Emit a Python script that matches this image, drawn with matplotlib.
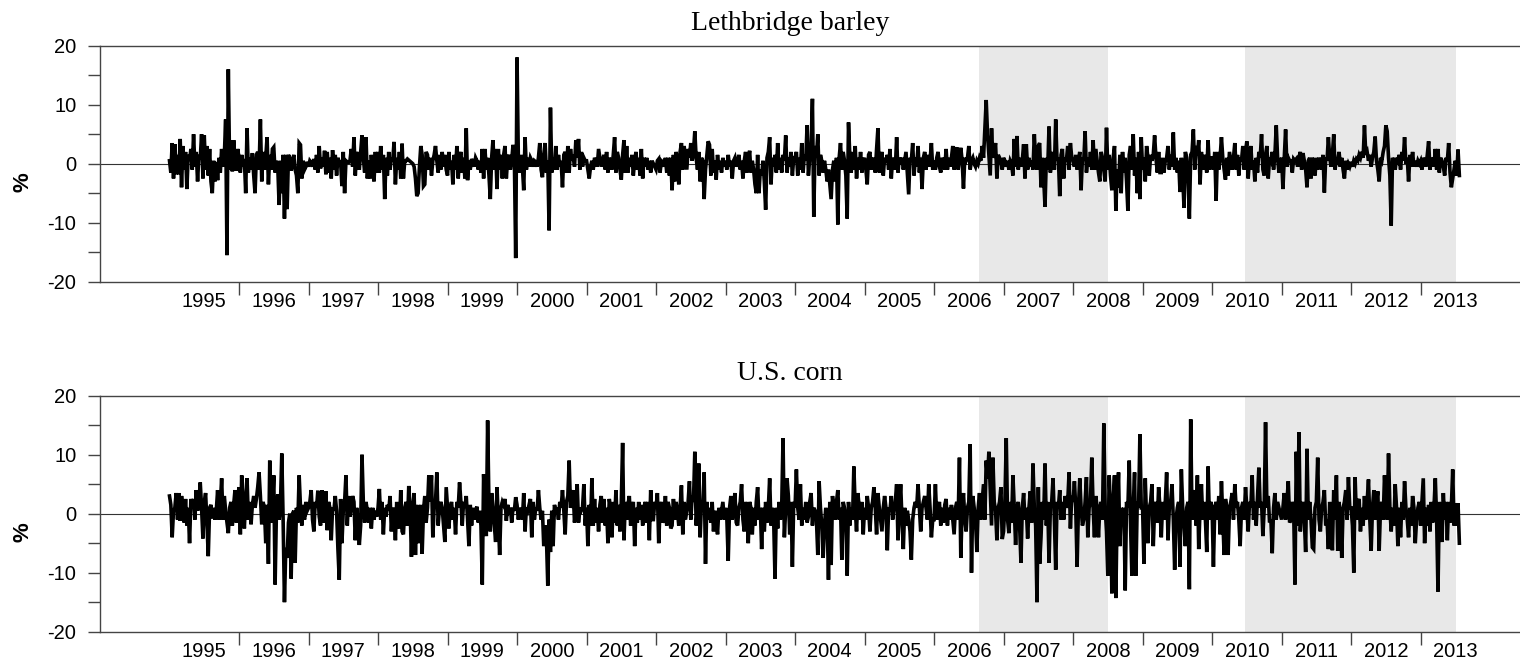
import numpy as np
import matplotlib
matplotlib.use("Agg")
import matplotlib.pyplot as plt
from matplotlib.ticker import FixedLocator, FixedFormatter, NullFormatter

plt.rcParams['axes.unicode_minus'] = False
plt.rcParams['font.family'] = ['Liberation Sans', 'DejaVu Sans']

# ---------------- data (weekly % changes) ----------------
panel_titles = ["Lethbridge barley", "U.S. corn"]
first_year = 1995
weeks_per_year = 52
shade_periods = [(2006.65, 2008.50), (2010.47, 2013.51)]
y_ticks = [-20, -10, 0, 10, 20]
y_tick_labels = ["-20", "-10", "0", "10", "20"]
y_minor_ticks = [-15, -5, 5, 15]
year_labels = [str(y) for y in range(1995, 2014)]

barley_1995 = [0.5, -1.5, 3.5, -2.5, 3.3, -1.8, 1.5, -1.8, 4.2, -4.0, 3.0, -1.0, 2.0,
               -4.3, 1.5, 0.5, 2.5, -1.0, 5.0, -0.5, 2.0, -3.0, 1.5, 0.8, 5.0, -2.5,
               4.8, -1.0, 3.0, -2.0, 2.5, -3.0, -5.0, 0.5, -3.0, 0.3, -2.8, 1.0, -1.5,
               2.5, -0.5, 1.2, 7.5, -15.5, 16.0, -1.0, 4.0, -1.3, 4.0, 0.5, -1.2, 2.5]
barley_1996 = [1.0, -1.5, 1.5, -0.5, 0.8, -5.0, 6.0, -1.5, 1.0, -1.0, 1.8, -2.0, -5.0,
               1.5, 2.0, -1.0, 7.5, -3.0, 2.0, -1.0, 1.0, 4.5, -3.5, 1.5, -1.0, 2.5,
               2.8, -1.5, 0.5, -0.5, -7.0, 0.5, -5.0, 1.5, -9.3, 1.5, -7.7, 1.5, 1.0,
               -1.2, 0.5, 1.5, -1.0, -2.0, -5.0, 3.5, 3.2, -2.5, 0.5, -1.0, -0.5, 0.3]
barley_1997 = [-0.5, 0.5, 0.2, -0.5, 0.8, -1.0, 1.5, -1.5, 3.0, -0.8, 1.0, -0.5, 2.2,
               -1.8, 2.0, -1.5, 1.0, -2.5, 2.3, -1.0, 1.5, -2.0, 1.0, 0.2, 0.3, -3.8,
               2.0, -5.0, 0.5, 0.3, 0.2, 0.5, 2.5, -0.5, 4.5, -2.0, 2.0, 1.0, -1.0,
               2.0, 4.8, 1.0, -1.5, 4.5, -2.5, 0.5, -2.5, 1.5, -1.0, -3.0, 2.0, -1.5]
barley_1998 = [2.0, -1.5, 3.0, -1.0, 1.5, -6.0, 1.0, -2.0, 2.0, -1.0, 1.0, 0.5, 3.7,
               -3.5, 1.0, -1.0, 2.0, -2.5, 3.4, -2.5, 0.5, 0.5, 0.8, 0.6, 0.4, 0.2,
               0.0, -0.5, -2.5, -5.5, -5.0, -0.5, 3.0, 1.5, -3.8, -3.5, 2.0, 1.5, -1.0,
               1.0, -2.0, 0.5, 1.5, 3.0, 0.5, -1.5, 1.5, -1.0, 2.0, -0.5, 1.5, -1.0]
barley_1999 = [-2.0, 2.0, -1.0, 0.5, -3.5, 1.5, -1.0, 3.0, -2.5, 1.0, 2.0, -1.5, 1.0,
               -2.5, 6.0, -2.8, 0.5, -1.0, 0.8, 0.3, -0.5, 1.0, 0.5, -1.0, 0.5, -1.5,
               2.5, -2.5, 2.5, -1.0, 1.0, -2.0, -6.0, 1.0, 4.0, -1.0, 2.5, -4.3, 2.5,
               -1.0, 1.5, -2.5, 1.5, 3.0, -2.5, 1.0, 1.5, -1.0, 0.5, 3.2, 1.0, -16.0]
barley_2000 = [18.0, 0.5, -1.5, 1.5, -0.5, -4.5, 4.5, -1.0, 1.0, -0.5, 1.0, 0.5, -0.5,
               0.5, 0.3, -0.5, 1.0, 3.5, -1.0, -2.3, 1.5, 3.5, -1.5, 0.5, -11.3, 9.5,
               -1.5, 1.0, -1.0, 3.0, -1.0, 1.5, -0.5, 0.5, -4.0, 1.5, 2.0, -1.5, 3.0,
               -1.5, 2.5, 0.5, 1.5, -0.5, 4.0, 1.0, 4.2, -1.0, 2.0, -0.5, 1.0, 0.5]
barley_2001 = [0.5, -1.0, -2.5, -0.5, 0.5, -1.0, 1.0, 0.5, -0.5, 2.5, 1.0, -0.5, 0.5,
               1.5, -1.0, 2.0, -1.5, 1.0, 0.5, -1.0, 1.5, 4.5, -1.5, 2.0, 1.0, -1.0,
               -2.7, 1.5, 4.0, -1.5, 3.0, -1.5, 1.0, -0.5, 1.5, -2.0, 0.5, 2.0, -1.0,
               1.0, -2.0, 2.5, -2.5, 1.0, -0.5, 1.0, -1.0, 0.5, -1.5, 0.5, 0.0, -0.5]
barley_2002 = [-1.0, 0.5, 0.8, -1.5, 0.5, 0.3, -0.5, 1.0, -1.5, 1.0, -2.0, 1.0, -4.5,
               1.5, -3.0, 2.0, 0.5, -3.5, 2.0, 3.5, -1.0, 3.0, 1.0, -1.0, 2.5, 1.0,
               3.5, 0.5, 2.0, 5.5, 1.0, -1.0, 2.0, -3.0, 1.0, 0.5, -6.0, -1.0, 1.5,
               3.8, 3.2, -2.0, 2.5, -1.5, 0.5, -2.7, 1.5, -1.0, 0.5, -1.5, 1.0, -0.5]
barley_2003 = [0.5, -1.0, 1.5, -0.5, 0.5, -2.5, 0.5, 1.0, -0.5, 0.3, 1.5, -1.0, 0.5,
               -2.5, 0.5, 2.0, -1.5, 0.5, 2.2, -1.5, 0.5, -1.0, -3.5, -5.0, 1.5, -5.0,
               -1.0, -2.0, 0.5, -3.0, -7.8, 1.0, 2.0, 4.5, -3.5, 1.0, -0.5, 1.5, -1.5,
               3.5, -1.0, 1.0, -1.5, 1.5, 0.5, 4.8, -1.5, 1.0, -0.5, 2.0, -2.0, 1.0]
barley_2004 = [1.0, 2.0, -2.0, 1.0, -1.0, 3.5, -1.5, 1.5, 0.5, 6.5, -2.0, 1.0, 3.0,
               11.0, -9.0, 3.0, 1.0, 5.0, -2.0, 1.5, 0.5, -1.5, 0.5, -1.0, -3.0, -1.0,
               -3.5, -6.0, -1.0, 0.5, -3.0, 1.0, -10.3, 1.0, 3.5, -1.0, 2.0, 0.5, -2.0,
               -9.3, 7.0, 1.0, -1.5, 2.0, -1.0, 3.0, -2.5, 1.0, -1.0, 2.0, -1.5, 0.5]
barley_2005 = [1.0, -1.0, -3.5, 1.5, 2.0, -1.0, 0.5, 1.0, -1.5, 2.5, 6.0, -1.5, 0.5,
               2.0, -2.0, 1.0, 0.3, 1.5, -1.0, 2.5, -2.5, 1.0, 0.5, -1.0, 4.5, -1.5,
               1.0, 0.5, 1.0, -1.0, 0.5, 2.0, -1.5, -5.2, 1.0, 0.5, 3.5, -2.0, 1.0,
               -0.5, 3.0, -1.5, 1.0, -4.3, 1.0, 2.0, -1.0, 1.5, -0.5, 0.5, 3.5, -1.0]
barley_2006 = [0.5, -1.0, 1.0, 2.0, -0.5, -1.5, 1.0, 0.5, -1.0, 2.5, -1.0, 1.0, -0.5,
               1.0, 3.0, -1.0, 1.5, 2.8, -1.0, 1.0, 2.7, 0.5, -4.2, 1.0, 0.5, 1.0,
               3.0, -1.0, 0.5, 1.0, 0.0, -0.5, 0.5, 0.0, 1.0, 0.5, 3.0, 1.0, 6.0,
               10.8, 5.0, 1.5, -2.0, 6.0, 1.0, 2.0, 3.5, -2.5, 1.5, 1.0, 0.5, -1.0]
barley_2007 = [1.0, 0.5, -0.5, 0.5, -1.0, 0.5, 0.0, -2.0, 4.2, -0.5, 4.7, -1.0, 1.0,
               -0.5, 0.5, 3.3, -2.5, 3.3, -1.0, 1.0, -0.5, 0.5, -1.0, 5.0, 0.5, -1.0,
               3.0, 3.5, -4.0, 1.0, -2.5, -7.3, 1.0, -1.0, 6.3, -1.5, 0.5, 2.0, -1.0,
               7.5, 0.5, 1.0, -5.5, 1.5, 2.5, -2.5, 1.0, 0.5, 3.0, -1.0, 3.5, 1.0]
barley_2008 = [0.5, -0.5, 1.5, -1.0, 0.5, 2.0, -4.5, 1.0, 0.5, 5.5, -1.5, 1.0, -0.5,
               2.0, -1.0, 4.0, -1.0, 2.5, 0.5, -1.5, -3.0, 2.0, 1.0, -1.0, -3.0, 6.1,
               -1.0, 1.5, -2.0, -4.5, 1.0, 3.0, -8.0, -1.0, -4.0, 1.5, -5.0, 2.0, -1.5,
               1.0, -3.0, -8.0, 1.5, 3.0, -1.0, 5.0, -2.0, 1.0, -5.0, 2.0, -6.0, 4.5]
barley_2009 = [-1.0, 1.0, -3.0, 3.0, 1.0, -2.0, 1.5, 0.5, 1.5, 4.8, 1.0, -1.5, 2.0,
               -1.5, -1.5, 1.0, -1.5, 0.5, 1.0, 3.0, -1.0, 1.5, -0.5, 5.3, -1.0, 1.0,
               -1.5, 0.5, -4.8, 1.0, -2.0, -7.5, 2.0, 1.0, -2.0, -9.3, 1.5, 2.0, 5.8,
               -1.0, 3.0, 1.5, 4.0, -3.5, 2.0, -1.0, 1.5, 0.5, -1.5, 4.0, -1.0, 1.0]
barley_2010 = [1.0, -1.0, 2.0, -6.3, 2.0, -1.0, 1.0, 4.5, 1.0, -1.0, -2.7, 1.0, -2.0,
               2.0, 0.5, -1.0, 1.0, 3.5, -1.0, 1.5, -2.0, 1.0, 0.5, 3.0, -1.0, 2.0,
               3.8, -2.5, 1.0, 3.0, -1.0, 0.5, -3.0, 1.0, -1.5, 2.0, 1.0, 5.0, -1.0,
               -2.0, 1.5, 3.0, -2.5, 1.0, 0.5, 2.0, -1.0, 1.5, 6.5, 1.0, -1.5, 0.5]
barley_2011 = [1.0, -4.3, 1.0, 5.8, -0.5, 1.0, 0.5, 0.5, -1.5, 0.8, 0.5, 0.8, -0.5,
               1.0, 2.0, -1.0, 1.8, 0.5, -1.0, -4.0, 0.5, 1.0, -2.5, 1.0, 0.5, -2.0,
               1.0, -1.0, 1.0, 0.5, -1.0, 1.5, -4.9, 1.0, 0.5, 4.5, 1.0, -0.5, 1.5,
               5.0, -1.0, 1.0, 0.5, 2.0, -0.5, 1.0, -1.0, -2.5, 0.5, -1.0, 0.0, -0.5]
barley_2012 = [0.3, -0.5, 0.5, 0.0, 0.8, 0.5, 1.5, 1.0, 2.0, 1.0, 6.5, 1.5, 2.0,
               0.5, 1.5, -0.5, 1.0, 2.0, 4.6, 0.5, -1.0, -3.0, 1.0, 0.5, 2.0, 3.0,
               6.5, 5.5, 1.0, -2.0, -10.5, 1.0, 0.5, -1.0, 1.0, 0.5, 1.5, -1.0, 2.0,
               0.5, 4.5, 0.0, 1.0, -3.0, 1.5, -0.5, 2.0, -0.5, 0.5, -0.5, 0.5, 0.0]
barley_2013 = [0.5, -1.0, 1.0, 0.5, -0.5, 1.5, 3.8, -1.0, 1.0, 0.5,
               -0.5, 2.5, -1.0, 2.5, -1.5, 1.0, 0.5, -0.5, -2.0, 1.0,
               0.5, 3.5, -1.5, -4.0, -2.5, -1.0, 0.5, -2.0, 2.4, -2.0]

corn_1995 = [3.0, 1.5, -4.0, 0.5, 1.0, 3.5, -1.0, 3.5, -1.2, 3.0, 1.0, -1.5, 2.5,
             -2.0, 1.0, -5.0, 2.5, 1.0, 2.5, -1.0, 4.0, 0.5, 2.0, 5.3, 1.0, -4.2,
             2.0, 3.5, -1.5, -7.2, 1.0, 1.5, -0.8, 1.0, -1.0, 0.5, 4.0, -1.0, 1.5,
             6.0, -1.0, 3.0, 0.5, -1.5, -3.3, 1.0, 2.0, -2.0, 1.5, 4.0, -1.5, 2.5]
corn_1996 = [4.5, -3.5, 6.5, 1.0, -2.5, 3.0, 6.0, -1.0, 2.0, -1.8, 1.5, 3.0, 1.0,
             2.5, 4.5, 7.0, 3.0, -1.8, 2.0, 1.0, -5.0, 1.5, -8.5, 9.0, -1.5, 1.0,
             6.5, -12.0, 0.5, 3.3, -1.0, 1.5, 10.2, -1.0, -15.0, -5.8, -7.5, -1.5, 0.0,
             -11.0, 0.0, 0.5, -8.3, 1.0, -1.5, 6.5, 1.0, -2.0, 1.5, -1.0, 2.0, 0.5]
corn_1997 = [1.0, 2.0, 4.0, -1.0, -3.0, 2.0, 1.0, 3.9, -0.5, -2.0, 4.0, -1.5, 1.0,
             3.8, -2.8, 2.0, 1.0, -4.5, 1.0, 0.5, 3.0, 0.5, -6.0, -11.2, 2.5, -5.0,
             0.5, 2.0, 6.5, -2.0, 3.0, -0.5, 1.0, 3.0, 2.0, -4.5, 1.0, -1.0, -5.3,
             -2.0, 10.0, 2.0, -1.5, 2.0, 0.5, -1.5, 1.0, -2.5, 1.0, -1.0, 0.5, -0.5]
corn_1998 = [1.0, 4.2, -1.0, 2.0, -3.5, 1.0, -0.5, 1.5, 0.5, 3.0, -3.0, 1.0, 0.5,
             -4.5, 2.0, -1.0, -2.5, 4.0, -3.0, -3.5, 1.0, 2.0, -2.0, 4.7, 1.0, -7.3,
             1.0, 3.5, -7.0, 1.5, -5.0, -1.0, 1.5, -6.8, 0.5, 3.0, -1.5, 1.0, 6.5,
             2.0, 6.5, -4.0, 1.0, 2.0, 7.0, -2.0, 1.0, 2.0, 1.0, -2.0, -4.8, 4.5]
corn_1999 = [1.0, -2.5, 1.0, 2.0, -1.0, 1.0, -3.5, 2.0, 1.0, 5.3, 2.0, -2.0, 2.0,
             1.0, 3.0, -1.0, -5.5, 1.5, -2.0, 1.0, -1.0, 0.5, 1.2, -1.5, 0.5, -2.0,
             -12.0, 6.7, 1.0, -3.8, 15.8, 1.5, -3.0, 3.5, 1.0, -2.0, -4.8, 4.5, -1.0,
             -7.0, 1.0, 2.0, 1.5, 2.5, -1.2, 1.5, 0.5, 1.0, -1.5, 1.0, 0.5, 2.8]
corn_2000 = [1.5, -1.0, 1.0, 0.5, -1.0, 3.5, -3.0, 1.0, 0.5, 1.5, 2.5, -4.0, 2.0,
             -1.0, 1.0, 0.5, 4.0, 1.0, -1.0, 0.5, -5.5, -2.0, -4.0, -12.2, -1.0, -6.5,
             0.5, -5.5, 1.5, 0.5, 1.0, -1.0, 2.0, 1.0, 4.0, 0.5, -3.5, 2.0, 3.0,
             9.0, 1.0, 2.0, 4.0, -1.5, 1.0, 5.0, -1.5, 1.0, 0.5, 1.0, 5.0, -2.0]
corn_2001 = [1.0, -5.5, 1.5, -2.0, 6.0, -2.0, 2.5, -1.5, 1.0, -3.0, 1.5, 3.0, -1.5,
             2.5, -2.0, 1.0, -5.0, 2.5, 1.0, -4.0, 2.0, -1.5, 4.0, -2.0, 1.5, -3.0,
             2.0, 12.0, -4.5, 2.0, -1.0, 1.5, 3.0, -2.0, 1.0, 2.0, -5.5, 1.0, -1.5,
             2.0, -1.0, 1.5, -2.0, 1.0, 2.0, -1.5, 2.0, -4.5, 4.0, -1.0, -1.0, 2.0]
corn_2002 = [1.0, 3.5, -5.0, 1.0, 2.0, -1.5, -1.0, 3.0, -2.0, 2.0, 1.0, -2.5, -2.0,
             2.5, -1.0, 2.0, 0.5, -2.0, 1.0, 4.8, -3.5, 2.0, -1.0, 0.5, 2.0, 5.5,
             -1.0, 3.0, 2.0, 10.5, -2.0, 1.0, 8.5, -4.0, 2.0, 1.0, 7.0, -8.5, 2.0,
             -1.0, 1.0, -1.5, 2.0, -3.0, 0.5, -1.0, -3.5, 1.0, -1.0, 0.5, 2.0, -1.0]
corn_2003 = [1.0, -1.0, -8.0, 1.0, 3.0, -1.0, 1.0, 3.5, -1.5, -2.0, 1.0, 2.0, 5.0,
             -1.0, -3.0, 2.0, 0.5, -5.0, 2.0, 1.0, -3.5, 1.0, -2.0, 2.0, 4.5, -1.0,
             1.0, -6.0, 1.0, -3.0, 2.0, -1.5, 1.0, 6.0, -2.0, 1.0, -1.0, -11.0, 1.0,
             -2.5, 2.0, -1.0, 1.0, 12.8, -4.0, 1.0, 6.0, 3.0, -3.5, 2.0, -9.0, 2.0]
corn_2004 = [1.0, 7.5, 1.0, -1.0, 5.0, -2.0, 1.0, -1.0, 2.0, -1.5, -0.5, 2.0, 3.5,
             -2.0, 1.0, 0.5, -1.0, -7.0, 5.5, 1.0, -2.0, -7.5, -2.0, 1.0, -1.0, -11.2,
             2.0, -8.7, 3.0, 1.0, -1.0, 2.0, 4.0, -1.0, 1.0, -7.8, 2.0, 1.0, -1.0,
             -10.5, 2.0, -2.0, 1.0, -1.0, 8.0, 1.0, -3.0, 3.5, 1.0, -1.0, 2.0, -3.5]
corn_2005 = [1.0, -1.0, 3.0, 1.0, -3.0, 1.0, 2.0, 4.5, 1.0, -3.5, 3.5, 1.0, -1.0,
             -3.0, 1.0, 3.0, 1.0, -6.2, 1.0, 0.5, 3.0, -1.0, 1.0, 2.0, 5.0, -4.5,
             1.0, 5.0, -1.0, -6.0, 1.0, -2.0, 0.5, -1.0, -3.0, -7.8, -1.0, 1.0, 2.0,
             1.0, 5.0, 1.0, -3.0, 1.0, 2.0, 3.0, 1.0, -1.0, 5.0, 1.0, -4.0, -1.0]
corn_2006 = [-1.0, 5.0, -1.0, 1.0, 2.0, -2.0, 1.0, -1.5, 1.5, 2.5, -2.0, 1.0, -1.0,
             1.5, -1.0, -3.5, 1.0, 2.0, -1.0, 9.5, -7.5, 1.0, 3.5, -1.0, -3.0, 1.0,
             2.0, 11.8, -10.0, 3.0, 1.0, -1.0, -6.5, 1.0, 3.5, -1.0, 2.0, 5.0, -1.0,
             9.0, 6.0, 10.5, 4.0, -2.0, 9.5, 2.0, 0.5, -4.5, 1.0, 2.0, 4.5, -4.3]
corn_2007 = [-3.0, 2.0, 12.8, -1.0, -3.3, 2.0, -1.5, 6.5, 1.0, -5.3, 1.0, 2.0, -2.0,
             -8.3, 1.0, 3.5, -1.0, 1.0, -4.2, 1.0, 3.8, -1.5, 8.5, 1.0, -2.0, -15.0,
             4.5, -8.5, -4.0, 2.0, -1.0, 8.5, -2.0, 2.0, -8.3, 1.0, 2.0, 6.0, -1.0,
             -9.5, 2.0, 1.0, 4.0, -1.0, 2.0, -1.0, 3.0, 1.0, 2.0, 7.0, -2.5, 3.0]
corn_2008 = [2.0, 5.5, 1.0, -9.0, 1.0, 6.0, 1.0, -2.0, -1.0, 2.0, 6.2, -4.0, 1.0,
             2.0, 9.5, 1.0, -4.0, 3.0, 1.0, -4.0, 1.0, 2.0, -1.0, 15.3, 1.0, -3.0,
             -10.5, 6.5, 1.0, -13.5, 2.0, 6.5, -14.3, 1.0, 7.0, -5.5, 1.0, -2.0, 1.0,
             -13.0, 2.0, 1.0, 9.0, -2.0, -10.5, 1.0, 7.0, -10.5, 2.0, 1.0, 13.5, 1.0]
corn_2009 = [1.0, -8.5, 6.0, -1.0, -5.0, 1.0, 2.0, 5.0, -5.5, 1.0, 2.0, -1.5, 4.5,
             1.0, -4.0, 2.0, -1.0, 2.0, 7.0, -4.5, 1.0, 2.0, 5.0, -1.0, -9.5, -1.0,
             1.0, 2.0, -9.0, 7.5, 1.0, -2.0, -5.5, 1.0, 2.0, -12.8, 16.0, -1.0, 2.0,
             4.0, -2.0, 6.5, -6.0, 1.0, 5.0, -1.0, 2.0, -1.0, -6.5, 8.0, -1.0, 2.0]
corn_2010 = [1.0, -9.0, 1.0, 2.0, -1.0, 3.0, -3.5, 5.5, -1.0, -7.0, 2.5, 1.0, -7.0,
             1.0, 2.0, 3.5, -1.0, 5.0, 1.0, 2.0, -1.0, -5.5, 1.0, 2.0, -1.0, 4.5,
             1.0, -3.0, 2.0, 1.0, 6.5, -1.0, 2.0, -2.0, 3.0, 7.8, 1.0, 2.0, -3.8,
             1.0, 15.5, 1.0, 3.0, -1.5, -1.0, -6.7, 1.0, 3.5, -1.0, 2.0, 1.0, 0.0]
corn_2011 = [-1.0, 1.0, 3.5, -1.0, 2.0, 5.5, -1.5, -1.0, 2.0, 1.0, -12.0, 10.5, -2.0,
             13.8, -3.0, 1.0, 2.0, -1.0, -6.5, 11.0, -1.0, 2.0, -1.0, -5.7, -6.0, 1.0,
             2.0, 9.5, -1.0, -3.0, 1.0, 2.0, 4.0, -2.0, -1.0, -6.0, 2.0, -1.0, -6.2,
             4.0, -1.0, 6.5, -6.3, 2.0, -1.0, -7.5, 1.0, 2.0, 4.0, -1.0, 6.2, 1.0]
corn_2012 = [1.0, -2.0, -10.0, 6.2, -1.0, 2.0, 2.5, -3.0, 1.0, -2.0, 3.0, -1.0, 2.0,
             5.8, -1.0, -6.3, 1.0, 4.0, -1.0, 2.0, 3.8, -6.3, 1.0, 2.0, -1.0, 6.5,
             2.0, -1.0, 10.2, 1.0, -3.0, 1.0, -2.0, 5.0, 1.0, -5.5, 1.0, -4.0, 2.0,
             -1.0, 5.5, 1.0, -1.0, -4.0, 1.0, -2.0, 3.0, 1.0, -5.0, -1.0, 1.0, 2.0]
corn_2013 = [-2.0, 2.0, 6.0, -5.0, 1.0, -2.0, 1.5, -3.0, 2.0, -1.5,
             1.0, 6.0, -1.0, -13.2, 2.0, -1.0, -4.8, 3.5, -1.0, 2.0,
             -4.5, 2.0, -1.5, 1.0, 7.5, -2.0, 1.8, -2.0, 1.8, -5.0]

barley_blocks = [barley_1995, barley_1996, barley_1997, barley_1998, barley_1999,
                 barley_2000, barley_2001, barley_2002, barley_2003, barley_2004,
                 barley_2005, barley_2006, barley_2007, barley_2008, barley_2009,
                 barley_2010, barley_2011, barley_2012, barley_2013]
corn_blocks = [corn_1995, corn_1996, corn_1997, corn_1998, corn_1999,
               corn_2000, corn_2001, corn_2002, corn_2003, corn_2004,
               corn_2005, corn_2006, corn_2007, corn_2008, corn_2009,
               corn_2010, corn_2011, corn_2012, corn_2013]


def to_series(blocks):
    xs, ys = [], []
    for k, vals in enumerate(blocks):
        yr = first_year + k
        xs.append(yr + np.arange(len(vals)) / weeks_per_year)
        ys.append(np.asarray(vals, dtype=float))
    return np.concatenate(xs), np.concatenate(ys)


series = [to_series(barley_blocks), to_series(corn_blocks)]

# ---------------- figure ----------------
W, H = 1520, 669
fig = plt.figure(figsize=(W / 100, H / 100), dpi=100)
left = 100 / W
boxes = [(left, 1 - 281.7 / H, 1 - left, (281.7 - 45.7) / H),
         (left, 1 - 631.7 / H, 1 - left, (631.7 - 395.7) / H)]

spine_col = '#444444'
for box, title, (x, y) in zip(boxes, panel_titles, series):
    ax = fig.add_axes(box)
    for a, b in shade_periods:
        ax.axvspan(a, b, color='#e8e8e8', lw=0, zorder=0)
    ax.axhline(0, color='#333333', lw=0.8, zorder=1)
    ax.plot(x, y, color='black', lw=2.6, zorder=2, solid_joinstyle='miter')

    ax.set_xlim(1994.0, 2014.43)
    ax.set_ylim(-20, 20)

    ax.spines['right'].set_visible(False)
    for s in ('left', 'top', 'bottom'):
        ax.spines[s].set_color(spine_col)
        ax.spines[s].set_linewidth(1.0)

    # x axis: ticks at year boundaries, labels centred in each year
    ax.xaxis.set_major_locator(FixedLocator(list(range(1996, 2014))))
    ax.xaxis.set_major_formatter(NullFormatter())
    ax.xaxis.set_minor_locator(FixedLocator([int(s) + 0.5 for s in year_labels]))
    ax.xaxis.set_minor_formatter(FixedFormatter(year_labels))
    ax.tick_params(axis='x', which='major', direction='out', length=9,
                   width=1.0, color=spine_col)
    ax.tick_params(axis='x', which='minor', length=0, pad=7.5,
                   labelsize=14.5, labelcolor='black')

    # y axis
    ax.yaxis.set_major_locator(FixedLocator(y_ticks))
    ax.yaxis.set_major_formatter(FixedFormatter(y_tick_labels))
    ax.yaxis.set_minor_locator(FixedLocator(y_minor_ticks))
    ax.tick_params(axis='y', which='both', direction='out', length=9,
                   width=1.0, color=spine_col)
    ax.tick_params(axis='y', which='major', pad=8, labelsize=14.5)

    ax.set_ylabel('%', fontsize=16, fontweight='bold')
    ax.yaxis.set_label_coords(-0.047, 0.424)
    ax.set_title(title, fontfamily='Liberation Serif', fontsize=20,
                 pad=11, x=0.486)

fig.savefig('out.png', dpi=100)
